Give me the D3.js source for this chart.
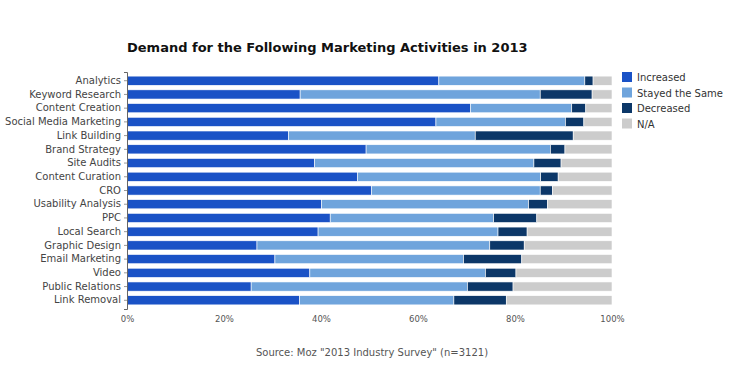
<!DOCTYPE html>
<html><head><meta charset="utf-8">
<script src="https://cdn.jsdelivr.net/npm/d3@7"></script>
<style>body{margin:0;background:#fff}svg{display:block}</style>
</head><body><svg id="c" width="738" height="381"></svg>
<script>
const categories = ["Analytics","Keyword Research","Content Creation","Social Media Marketing","Link Building","Brand Strategy","Site Audits","Content Curation","CRO","Usability Analysis","PPC","Local Search","Graphic Design","Email Marketing","Video","Public Relations","Link Removal"];
const increased = [64.3,35.7,70.8,63.7,33.3,49.3,38.7,47.5,50.4,40.1,41.9,39.4,26.8,30.5,37.7,25.6,35.6];
const stayedSame = [30.1,49.5,20.9,26.7,38.5,38.0,45.2,37.8,34.8,42.7,33.7,37.1,48.0,38.9,36.2,44.6,31.8];
const decreased = [1.7,10.7,2.9,3.8,20.2,3.0,5.6,3.6,2.5,3.9,8.9,6.0,7.1,12.0,6.3,9.4,10.8];
const na = [3.9,4.1,5.4,5.8,8.0,9.7,10.5,11.1,12.3,13.3,15.5,17.5,18.1,18.6,19.8,20.4,21.8];
const seriesNames = ["Increased","Stayed the Same","Decreased","N/A"];
const colors = ["#1a52c6","#6fa4dc","#0c3768","#cccccc"];
const tickValues = [0,20,40,60,80,100];

const svg = d3.select("#c");
const font = "Verdana, 'DejaVu Sans', sans-serif";
const m = {left:127, right:612, top:72, bottom:309};

const rows = categories.map((c,i)=>({cat:c, Increased:increased[i], "Stayed the Same":stayedSame[i], Decreased:decreased[i], "N/A":na[i]}));
const stack = d3.stack().keys(seriesNames)(rows);

const x = d3.scaleLinear().domain([0,100]).range([m.left,m.right]);
const y = d3.scaleBand().domain(categories).range([m.top,m.bottom]).paddingInner(0.33).paddingOuter(0.3);

svg.append("text").attr("x",127).attr("y",52).attr("font-family",font).attr("font-weight","bold")
  .attr("font-size",13).attr("fill","#111").text("Demand for the Following Marketing Activities in 2013");

const g = svg.append("g");
stack.forEach((s,si)=>{
  g.selectAll(null).data(s).enter().append("rect")
    .attr("x",d=>x(d[0])).attr("width",d=>x(d[1])-x(d[0]))
    .attr("y",d=>y(d.data.cat)).attr("height",y.bandwidth())
    .attr("fill",colors[si]).attr("stroke","#fff").attr("stroke-width",0.6);
});

// y axis
const ya = svg.append("g").attr("transform",`translate(${m.left},0)`).call(d3.axisLeft(y).tickSize(3).tickPadding(3));
ya.select(".domain").attr("stroke","#666");
ya.selectAll(".tick line").attr("stroke","#999");
ya.selectAll("text").attr("font-family",font).attr("font-size",10).attr("fill","#444");

// x axis
const xa = svg.append("g").attr("transform",`translate(0,${m.bottom+5})`)
  .call(d3.axisBottom(x).tickValues(tickValues).tickFormat(d=>d+"%").tickSize(0).tickPadding(2));
xa.select(".domain").remove();
xa.selectAll("text").attr("font-family",font).attr("font-size",8.5).attr("fill","#555");

// legend
const lg = svg.append("g").attr("transform","translate(622,72)");
seriesNames.forEach((n,i)=>{
  lg.append("rect").attr("x",0).attr("y",i*15.5).attr("width",10).attr("height",10).attr("fill",colors[i]);
  lg.append("text").attr("x",15).attr("y",i*15.5+9).attr("font-family",font).attr("font-size",10).attr("fill","#333").text(n);
});

svg.append("text").attr("x",372).attr("y",356).attr("text-anchor","middle").attr("font-family",font)
  .attr("font-size",10).attr("fill","#555").text('Source: Moz "2013 Industry Survey" (n=3121)');
</script></body></html>
